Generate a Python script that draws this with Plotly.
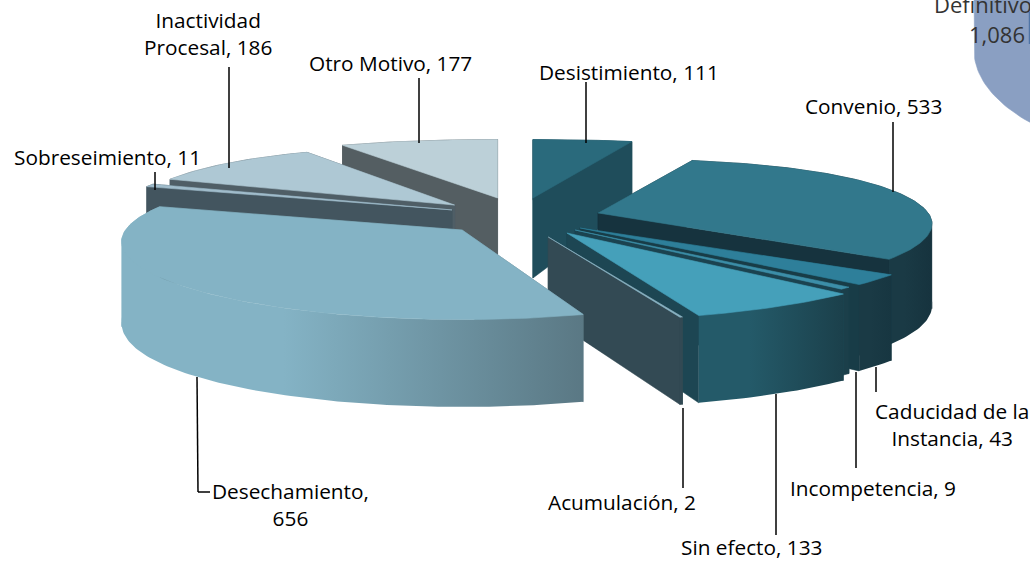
import math
import plotly.graph_objects as go

# ---- data ----
categories = ["Desistimiento", "Convenio", "Caducidad de la Instancia", "Incompetencia",
              "Sin efecto", "Acumulación", "Desechamiento", "Sobreseimiento",
              "Inactividad Procesal", "Otro Motivo"]
values = [111, 533, 43, 9, 133, 2, 656, 11, 186, 177]
other_category = "Definitivo"
other_value = "1,086"

# ---- styling of each slice (same order) ----
explode = [.304, .30, .236, .231, .228, .223, .165, .22, .259, .294]
explode_dir = [15.6, 68.5, 108, 115, 126, 145, 233.6, 312, 323, 355]
radius_x = [1.05, 1.0, 1.07, 1.05, 1.09, 1.11, 1.02, 1.03, 0.98, 1.03]
radius_y = [1.0, .93, .94, .95, .98, .95, 1.0, 1.0, 1.0, 1.0]
top_col = ["#2a6a7c", "#32788c", "#2e7f9a", "#3c8ea8", "#45a0ba", "#8ab4c4", "#84b3c5", "#a0bccb", "#aec8d4", "#bcd0d8"]
wall_col = ["#1f4d5b", "#16333e", "#183c47", "#1b4350", "#1d4653", "#334a54", "#5f7d89", "#43555f", "#4f5e66", "#545e62"]
arc_grad = [("#1f4d5b", "#1f4d5b"), ("#1a3a45", "#16333e"), ("#1a3a45", "#173641"), ("#1b3f4a", "#1b3f4a"),
            ("#245a69", "#1b404b"), ("#334a54", "#334a54"), ("#84b3c5", "#5a7884"), ("#43555f", "#43555f"),
            ("#4f5e66", "#4f5e66"), ("#545e62", "#545e62")]
draw_order = [0, 9, 8, 7, 1, 2, 3, 4, 5, 6]

CX, CY, A, B, H = 506, 222, 330, 82, 80
RIGHT_EDGE, LEFT_EDGE = 100, 260  # rim angles at the silhouette's extreme x


def persp(y):
    return 1 - .167 * y - .075 * y * y


def rim(theta, ax, ay, rx, ry):
    t = math.radians(theta)
    c = math.cos(t)
    sc = persp(c)
    return ax + A * rx * math.sin(t) * sc, ay - B * ry * c * sc * (1 - .06 * max(c, 0) ** 2), H * sc


def wall(theta, ax, ay, rx, ry):
    x, y, h = rim(theta, ax, ay, rx, ry)
    h0 = H * persp(0)
    return [ax, x, x, ax, ax], [ay, y, y + h, ay + h0, ay]


def arc_poly(t0, t1, ax, ay, rx, ry):
    n = max(3, int(abs(t1 - t0)))
    ths = [t0 + (t1 - t0) * i / n for i in range(n + 1)]
    up = [rim(t, ax, ay, rx, ry) for t in ths]
    xs = [p[0] for p in up] + [p[0] for p in reversed(up)]
    ys = [p[1] for p in up] + [p[1] + p[2] for p in reversed(up)]
    return xs + xs[:1], ys + ys[:1]


def top_poly(t0, t1, ax, ay, rx, ry):
    n = max(3, int(abs(t1 - t0)))
    pts = [rim(t0 + (t1 - t0) * i / n, ax, ay, rx, ry) for i in range(n + 1)]
    return [ax] + [p[0] for p in pts] + [ax], [ay] + [p[1] for p in pts] + [ay]


fig = go.Figure()


def poly(xs, ys, color=None, grad=None):
    kw = dict(x=xs, y=ys, mode="lines", fill="toself", line=dict(width=0.6, color=color or grad[1]),
              hoverinfo="skip", showlegend=False)
    if grad and grad[0] != grad[1]:
        kw["fillgradient"] = dict(type="horizontal", colorscale=[[0, grad[0]], [.35, grad[0]], [1, grad[1]]])
        kw["line"] = dict(width=0)
    else:
        kw["fillcolor"] = color or grad[1]
    fig.add_trace(go.Scatter(**kw))


total = sum(values)
starts, acc = [], 0
for v in values:
    starts.append(acc)
    acc += v * 360 / total

# the clipped slice of the other pie at the top right
ell = [i * 1.5 for i in range(0, 61)]
ex = [1200 - 226 * math.cos(math.radians(a)) for a in ell]
ey = [50 + 110 * math.sin(math.radians(a)) for a in ell]
poly([974] + ex + [1040, 1040, 974], [-10] + ey + [ey[-1], -10, -10], color="#8a9fc2")
fig.add_trace(go.Scatter(x=[1029.5, 1029.5], y=[12, 44], mode="lines", line=dict(color="#4f74a6", width=1.5),
                         hoverinfo="skip", showlegend=False))

for i in draw_order:
    t0 = starts[i]
    t1 = t0 + values[i] * 360 / total
    d = math.radians(explode_dir[i])
    ax = CX + A * explode[i] * math.sin(d)
    ay = CY - B * explode[i] * math.cos(d)
    rx, ry = radius_x[i], radius_y[i]
    mid = (t0 + t1) / 2
    # rim wall beyond the silhouette's extreme x, drawn first
    for lo, hi, col in ((t0, min(t1, RIGHT_EDGE), arc_grad[i][1]), (max(t0, LEFT_EDGE), t1, arc_grad[i][0])):
        if hi > lo:
            xs, ys = arc_poly(lo, hi, ax, ay, rx, ry)
            poly(xs, ys, color=col)
    order = (t0, t1) if mid < 180 else (t1, t0)
    for t in order:
        xs, ys = wall(t, ax, ay, rx, ry)
        poly(xs, ys, color=wall_col[i])
    lo, hi = max(t0, RIGHT_EDGE), min(t1, LEFT_EDGE)
    if hi > lo:
        xs, ys = arc_poly(lo, hi, ax, ay, rx, ry)
        poly(xs, ys, grad=arc_grad[i], color=None)
    xs, ys = top_poly(t0, t1, ax, ay, rx, ry)
    poly(xs, ys, color=top_col[i])

# ---- leader lines ----
leaders = [((586, 82), (586, 143)), ((893, 122), (893, 192)), ((876, 367), (876, 392)),
           ((856, 372), (856, 468)), ((776, 394), (776, 535)), ((683, 408), (683, 488)),
           ((197, 377), (198, 492)), ((198, 492), (210, 492)), ((155, 172), (155, 190)),
           ((229, 67), (229, 168)), ((419, 78), (419, 143))]
shapes = [dict(type="line", xref="x", yref="y", x0=a[0], y0=a[1], x1=b[0], y1=b[1],
               line=dict(color="#000000", width=1.5)) for a, b in leaders]

# ---- labels ----
FONT = "Open Sans"
lab = [(629, 72, f"{categories[0]}, {values[0]}"),
       (873, 106, f"{categories[1]}, {values[1]}"),
       (952, 424, f"Caducidad de la<br>Instancia, {values[2]}"),
       (873, 488, f"{categories[3]}, {values[3]}"),
       (752, 547, f"{categories[4]}, {values[4]}"),
       (622, 502, f"{categories[5]}, {values[5]}"),
       (290, 504, f"{categories[6]},<br>{values[6]}"),
       (107, 157, f"{categories[7]}, {values[7]}"),
       (208, 33, f"Inactividad<br>Procesal, {values[8]}"),
       (390, 63, f"{categories[9]}, {values[9]}")]
ann = [dict(x=x, y=y, xref="x", yref="y", text=t, showarrow=False, font=dict(family=FONT, size=20.8, color="#000"),
            xanchor="center", yanchor="middle") for x, y, t in lab]
ann.append(dict(x=932, y=4, xref="x", yref="y", text=other_category + ",", showarrow=False, xanchor="left",
                yanchor="middle", font=dict(family="Open Sans", size=22, color="#333")))
ann.append(dict(x=997, y=34, xref="x", yref="y", text=other_value, showarrow=False, xanchor="center",
                yanchor="middle", font=dict(family="Open Sans", size=22, color="#333")))

fig.update_layout(
    width=1030, height=561, margin=dict(l=0, r=0, t=0, b=0),
    paper_bgcolor="#ffffff", plot_bgcolor="#ffffff", showlegend=False,
    xaxis=dict(range=[0, 1030], visible=False, fixedrange=True),
    yaxis=dict(range=[561, 0], visible=False, fixedrange=True),
    shapes=shapes, annotations=ann,
)
fig.write_html("out.html", config={"displayModeBar": False},
               post_script="document.body.style.margin='0';document.documentElement.style.overflow='hidden';")
